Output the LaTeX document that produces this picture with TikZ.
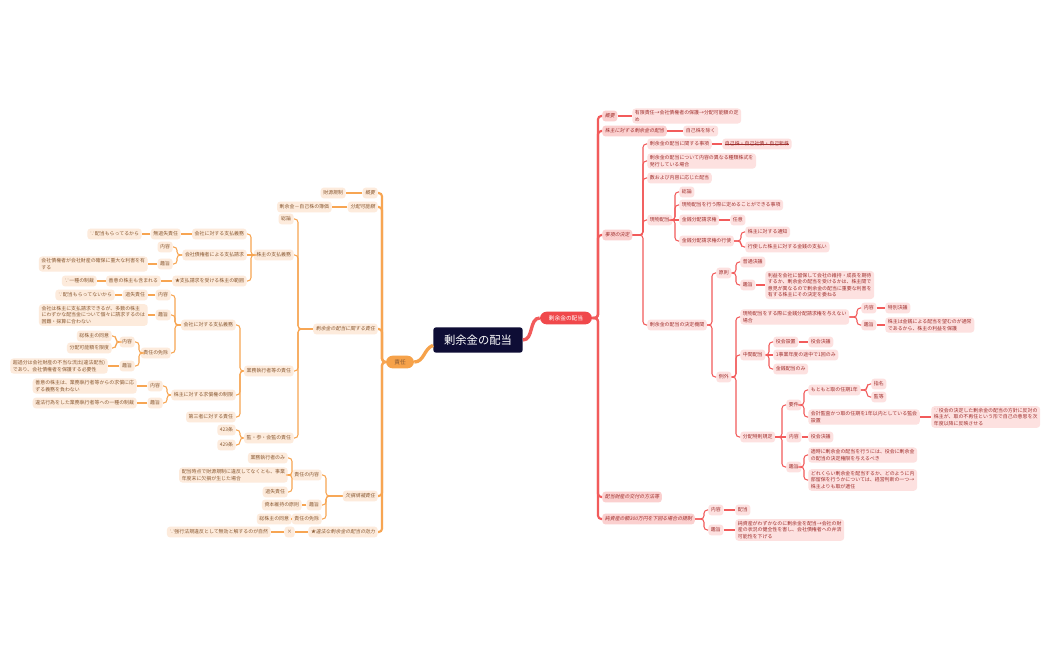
\documentclass[tikz,border=0pt]{standalone}
\usepackage{fontspec}
\setmainfont{Noto Sans CJK JP}
\newfontfamily\slnt[FakeSlant=0.2]{Noto Sans CJK JP}
\definecolor{rl}{HTML}{F25B5B}
\definecolor{ll}{HTML}{F7A552}
\definecolor{rf}{HTML}{FDE1E0}
\definecolor{rf2}{HTML}{FBD0CF}
\definecolor{rt}{HTML}{A0302E}
\definecolor{lf}{HTML}{FDEBDC}
\definecolor{lt}{HTML}{8A5A33}
\definecolor{navy}{HTML}{0E0D35}
\definecolor{mred}{HTML}{F0484B}
\definecolor{morg}{HTML}{F6A24A}
\newcommand\lkR[2]{\draw[rc] (#1.east) -| ([xshift=-3pt]#2.west) -- (#2.west);}
\newcommand\lkL[2]{\draw[lc] (#1.west) -| ([xshift=3pt]#2.east) -- (#2.east);}
\newcommand\sR[2]{\draw[rc] (#1.east) -- (#2.west);}
\newcommand\sL[2]{\draw[lc] (#1.west) -- (#2.east);}
\begin{document}
\begin{tikzpicture}[x=0.75pt,y=-0.75pt,
 base/.style={rounded corners=2.5pt,inner xsep=2pt,inner ysep=1.6pt,minimum height=8.2pt,align=left,font=\fontsize{3.7}{4.8}\selectfont},
 R/.style={base,fill=rf,text=rt,anchor=west},
 R2/.style={R,fill=rf2,font=\fontsize{3.7}{4.8}\slnt},
 L/.style={base,fill=lf,text=lt,anchor=east},
 L2/.style={L,font=\fontsize{3.7}{4.8}\slnt},
 rc/.style={draw=rl,line width=0.8pt,rounded corners=2.5pt},
 lc/.style={draw=ll,line width=0.8pt,rounded corners=2.5pt},
 rc2/.style={rc,line width=1.6pt},
 lc2/.style={lc,line width=1.6pt}]
\useasboundingbox[fill=white] (0,0) rectangle (1050,650);
% centre
\node[fill=navy,text=white,rounded corners=2pt,minimum width=67pt,minimum height=19pt,font=\fontsize{8.5}{10}\selectfont] (root) at (478,340) {剰余金の配当};
\node[fill=mred,text=white,rounded corners=5pt,minimum width=39pt,minimum height=9.5pt,inner sep=1pt,font=\fontsize{4.3}{5}\selectfont] (mr) at (566,318) {剰余金の配当};
\node[fill=morg,text=lt,rounded corners=5pt,minimum width=21pt,minimum height=9.5pt,inner sep=1pt,font=\fontsize{4.3}{5}\selectfont] (ml) at (400,362) {責任};
\draw[rl,line width=2.5pt] (root.east) to[out=0,in=180] (mr.west);
\draw[morg,line width=2.5pt] ([yshift=-4pt]root.west) to[out=200,in=0] (ml.east);

% ===== RIGHT =====
\node[R2] (r1) at (602,116) {概要};
\node[R] (r1a) at (632,116) {有限責任→会社債権者の保護→分配可能額の定\\め};
\node[R2] (r2) at (602,131) {株主に対する剰余金の配当};
\node[R] (r2a) at (683,131) {自己株を除く};
\node[R2] (r3) at (602,235) {事項の決定};
\node[R2] (r4) at (602,497) {配当財産の交付の方法等};
\node[R2] (r5) at (602,519) {純資産の額300万円を下回る場合の規制};
\foreach \c in {r1,r2,r3,r4,r5}{\draw[rc2] (mr.east) -| ([xshift=-3pt]\c.west) -- (\c.west);}
\sR{r1}{r1a}\sR{r2}{r2a}

\node[R] (a1) at (647,144) {剰余金の配当に関する事項};
\node[R] (a1a) at (722,144) {自己株・自己社債・自己新株};
\draw[rt,line width=0.4pt] (a1a.west) ++(2pt,0) -- ([xshift=-2pt]a1a.east);
\node[R] (a2) at (647,161) {剰余金の配当について内容の異なる種類株式を\\発行している場合};
\node[R] (a3) at (647,178) {数および内容に応じた配当};
\node[R] (a4) at (647,220) {現物配当};
\node[R] (a5) at (647,325) {剰余金の配当の決定機関};
\foreach \c in {a1,a2,a3,a4,a5}{\lkR{r3}{\c}}
\sR{a1}{a1a}

\node[R] (b1) at (679,192) {総論};
\node[R] (b2) at (679,205) {現物配当を行う際に定めることができる事項};
\node[R] (b3) at (679,220) {金銭分配請求権};
\node[R] (b3a) at (730,220) {任意};
\node[R] (b4) at (679,241) {金銭分配請求権の行使};
\node[R] (b4a) at (745,232) {株主に対する通知};
\node[R] (b4b) at (745,247) {行使した株主に対する金銭の支払い};
\foreach \c in {b1,b2,b4}{\lkR{a4}{\c}}
\sR{a4}{b3}
\sR{b3}{b3a}\lkR{b4}{b4a}\lkR{b4}{b4b}

\node[R] (c1) at (716,273) {原則};
\node[R] (c2) at (716,377) {例外};
\lkR{a5}{c1}\lkR{a5}{c2}
\node[R] (c1a) at (740,262) {普通決議};
\node[R] (c1b) at (740,285) {趣旨};
\node[R] (c1ba) at (765,285) {利益を会社に留保して会社の維持・成長を期待\\するか、剰余金の配当を受けるかは、株主間で\\意見が異なるので剰余金の配当に重要な利害を\\有する株主にその決定を委ねる};
\lkR{c1}{c1a}\lkR{c1}{c1b}\sR{c1b}{c1ba}

\node[R] (d1) at (740,317) {現物配当をする際に金銭分配請求権を与えない\\場合};
\node[R] (d2) at (740,355) {中間配当};
\node[R] (d3) at (740,437) {分配特則規定};
\lkR{c2}{d1}\lkR{c2}{d2}\lkR{c2}{d3}
\node[R] (d1a) at (861,308) {内容};
\node[R] (d1aa) at (885,308) {特別決議};
\node[R] (d1b) at (861,325) {趣旨};
\node[R] (d1ba) at (885,325) {株主は金銭による配当を望むのが通常\\であるから、株主の利益を保護};
\lkR{d1}{d1a}\lkR{d1}{d1b}\sR{d1a}{d1aa}\sR{d1b}{d1ba}
\node[R] (d2a) at (773,342) {役会設置};
\node[R] (d2aa) at (808,342) {役会決議};
\node[R] (d2b) at (773,355) {1事業年度の途中で1回のみ};
\node[R] (d2c) at (773,369) {金銭配当のみ};
\lkR{d2}{d2a}\sR{d2}{d2b}\lkR{d2}{d2c}\sR{d2a}{d2aa}

\node[R] (e1) at (786,405) {要件};
\node[R] (e2) at (786,437) {内容};
\node[R] (e3) at (786,467) {趣旨};
\lkR{d3}{e1}\sR{d3}{e2}\lkR{d3}{e3}
\node[R] (e1a) at (808,390) {もともと取の任期1年};
\node[R] (e1aa) at (871,384) {指名};
\node[R] (e1ab) at (871,397) {監等};
\node[R] (e1b) at (808,417) {会計監査かつ取の任期を1年以内としている監会\\設置};
\node[R] (e1ba) at (931,417) {∵役会の決定した剰余金の配当の方針に反対の\\株主が、取の不再任という形で自己の意思を次\\年度以降に反映させる};
\lkR{e1}{e1a}\lkR{e1}{e1b}\lkR{e1a}{e1aa}\lkR{e1a}{e1ab}\sR{e1b}{e1ba}
\node[R] (e2a) at (808,437) {役会決議};
\sR{e2}{e2a}
\node[R] (e3a) at (808,455) {適時に剰余金の配当を行うには、役会に剰余金\\の配当の決定権限を与えるべき};
\node[R] (e3b) at (808,480) {どれくらい剰余金を配当するか、どのように内\\部留保を行うかについては、経営判断の一つ→\\株主よりも取が適任};
\lkR{e3}{e3a}\lkR{e3}{e3b}

\node[R] (f1) at (708,510) {内容};
\node[R] (f1a) at (735,510) {配当};
\node[R] (f2) at (708,530) {趣旨};
\node[R] (f2a) at (735,530) {純資産がわずかなのに剰余金を配当→会社の財\\産の状況の健全性を害し、会社債権者への弁済\\可能性を下げる};
\lkR{r5}{f1}\lkR{r5}{f2}\sR{f1}{f1a}\sR{f2}{f2a}

% ===== LEFT =====
\node[L2] (l1) at (378,193) {概要};
\node[L] (l1a) at (346,193) {財源規制};
\node[L2] (l2) at (378,207) {分配可能額};
\node[L] (l2a) at (332,207) {剰余金－自己株の簿価};
\node[L2] (l3) at (378,329) {剰余金の配当に関する責任};
\node[L2] (l4) at (378,496) {欠損填補責任};
\node[L2] (l5) at (378,532) {★違法な剰余金の配当の効力};
\foreach \c in {l1,l2,l3,l4,l5}{\draw[lc2] (ml.west) -| ([xshift=3pt]\c.east) -- (\c.east);}
\sL{l1}{l1a}\sL{l2}{l2a}

\node[L] (g1) at (294,219) {総論};
\node[L] (g2) at (294,255) {株主の支払義務};
\node[L] (g3) at (294,371) {業務執行者等の責任};
\node[L] (g4) at (294,438) {監・参・会監の責任};
\foreach \c in {g1,g2,g3,g4}{\lkL{l3}{\c}}

\node[L] (h1) at (247,234) {会社に対する支払義務};
\node[L] (h1a) at (181,234) {無過失責任};
\node[L] (h1b) at (142,234) {∵配当もらってるから};
\node[L] (h2) at (247,255) {会社債権者による支払請求};
\node[L] (h2a) at (173,247) {内容};
\node[L] (h2b) at (173,264) {趣旨};
\node[L] (h2ba) at (148,264) {会社債権者が会社財産の確保に重大な利害を有\\する};
\node[L] (h3) at (247,281) {★支払請求を受ける株主の範囲};
\node[L] (h3a) at (161,281) {善意の株主も含まれる};
\node[L] (h3b) at (97,281) {∵一種の制裁};
\lkL{g2}{h1}\sL{g2}{h2}\lkL{g2}{h3}
\sL{h1}{h1a}\sL{h1a}{h1b}\lkL{h2}{h2a}\lkL{h2}{h2b}\sL{h2b}{h2ba}\sL{h3}{h3a}\sL{h3a}{h3b}

\node[L] (i1) at (236,325) {会社に対する支払義務};
\node[L] (i2) at (236,395) {株主に対する求償権の制限};
\node[L] (i3) at (236,417) {第三者に対する責任};
\lkL{g3}{i1}\lkL{g3}{i2}\lkL{g3}{i3}
\node[L] (j1) at (171,295) {内容};
\node[L] (j1a) at (148,295) {過失責任};
\node[L] (j1b) at (115,295) {∵配当もらってないから};
\node[L] (j2) at (171,315) {趣旨};
\node[L] (j2a) at (148,315) {会社は株主に支払請求できるが、多数の株主\\にわずかな配当金について個々に請求するのは\\困難・採算に合わない};
\node[L] (j3) at (171,353) {責任の免除};
\lkL{i1}{j1}\lkL{i1}{j2}\lkL{i1}{j3}\sL{j1}{j1a}\sL{j1a}{j1b}\sL{j2}{j2a}
\node[L] (k1) at (135,342) {内容};
\node[L] (k1a) at (112,336) {総株主の同意};
\node[L] (k1b) at (112,348) {分配可能額を限度};
\node[L] (k2) at (135,366) {趣旨};
\node[L] (k2a) at (108,366) {超過分は会社財産の不当な流出(違法配当)\\であり、会社債権者を保護する必要性};
\lkL{j3}{k1}\lkL{j3}{k2}\lkL{k1}{k1a}\lkL{k1}{k1b}\sL{k2}{k2a}
\node[L] (m1) at (163,386) {内容};
\node[L] (m1a) at (137,386) {善意の株主は、業務執行者等からの求償に応\\ずる義務を負わない};
\node[L] (m2) at (163,403) {趣旨};
\node[L] (m2a) at (137,403) {違法行為をした業務執行者等への一種の制裁};
\lkL{i2}{m1}\lkL{i2}{m2}\sL{m1}{m1a}\sL{m2}{m2a}
\node[L] (n1) at (236,430) {423条};
\node[L] (n2) at (236,445) {429条};
\lkL{g4}{n1}\lkL{g4}{n2}

\node[L] (o1) at (322,475) {責任の内容};
\node[L] (o2) at (322,505) {趣旨};
\node[L] (o3) at (322,519) {責任の免除};
\lkL{l4}{o1}\lkL{l4}{o2}\lkL{l4}{o3}
\node[L] (o1a) at (288,458) {業務執行者のみ};
\node[L] (o1b) at (288,475) {配当時点で財源規制に違反してなくとも、事業\\年度末に欠損が生じた場合};
\node[L] (o1c) at (288,492) {過失責任};
\lkL{o1}{o1a}\sL{o1}{o1b}\lkL{o1}{o1c}
\node[L] (o2a) at (302,505) {資本維持の原則};
\node[L] (o3a) at (292,519) {総株主の同意};
\sL{o2}{o2a}\sL{o3}{o3a}
\node[L] (p1) at (295,532) {×};
\node[L] (p1a) at (271,532) {∵強行法規違反として無効と解するのが自然};
\sL{l5}{p1}\sL{p1}{p1a}
\end{tikzpicture}
\end{document}
